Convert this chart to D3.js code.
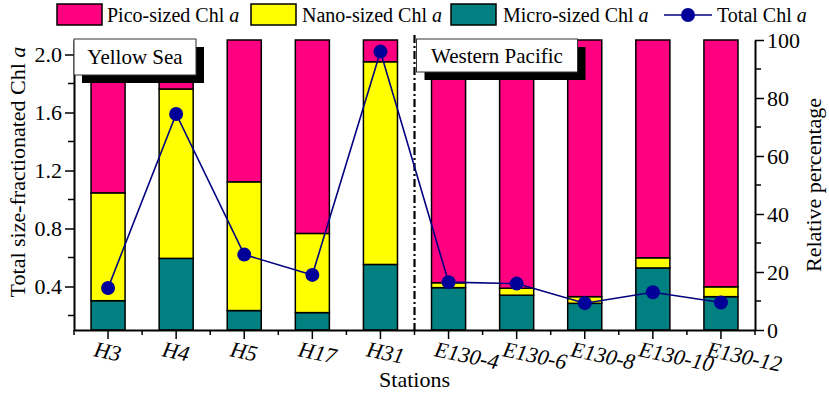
<!DOCTYPE html>
<html>
<head>
<meta charset="utf-8">
<script src="https://cdn.jsdelivr.net/npm/d3@7"></script>
<style>
  body { margin: 0; background: #fff; }
  svg { display: block; font-family: "Liberation Serif", "Times New Roman", serif; }
  svg text { font-family: "Liberation Serif", "Times New Roman", serif; }
</style>
</head>
<body>
<svg id="chart" width="829" height="393"></svg>
<script>
const stations = ["H3", "H4", "H5", "H17", "H31", "E130-4", "E130-6", "E130-8", "E130-10", "E130-12"];
// relative percentages (%)
const microPct = [10.1, 24.7, 6.7, 6.0, 22.6, 14.6, 12.0, 9.2, 21.4, 11.5];
const nanoPct  = [37.2, 58.4, 44.4, 27.3, 69.9, 1.7, 2.4, 2.3, 3.5, 3.4];
const picoPct  = microPct.map((m, i) => 100 - m - nanoPct[i]);
// total Chl a (left axis)
const totalChl = [0.39, 1.59, 0.62, 0.48, 2.02, 0.43, 0.42, 0.285, 0.36, 0.29];
const leftTicks = [0.4, 0.8, 1.2, 1.6, 2.0];
const leftMinor = [0.2, 0.6, 1.0, 1.4, 1.8];
const rightTicks = [0, 20, 40, 60, 80, 100];
const rightMinor = [10, 30, 50, 70, 90];
const regions = ["Yellow Sea", "Western Pacific"];

const colors = { pico: "#FF0080", nano: "#FFFF00", micro: "#008080", line: "#000080", dot: "#000099" };

const svg = d3.select("#chart");
const L = 74, R = 755, T = 40, B = 330;

const x = d3.scaleBand().domain(stations).range([L, R]).paddingInner(0.5).paddingOuter(0.25);
const yL = d3.scaleLinear().domain([0.1, 2.1]).range([B, T]);
const yR = d3.scaleLinear().domain([0, 100]).range([B, T]);

// stacked bars
const rows = stations.map((s, i) => ({ station: s, micro: microPct[i], nano: nanoPct[i], pico: picoPct[i] }));
const stack = d3.stack().keys(["micro", "nano", "pico"])(rows);
svg.append("g").selectAll("g").data(stack).join("g")
  .attr("fill", d => colors[d.key])
  .selectAll("rect").data(d => d).join("rect")
  .attr("x", d => x(d.data.station))
  .attr("width", x.bandwidth())
  .attr("y", d => yR(d[1]))
  .attr("height", d => yR(d[0]) - yR(d[1]))
  .attr("stroke", "#000")
  .attr("stroke-width", 1.5);

// divider (dash-dot)
const divX = x("H31") + x.bandwidth() + (x.step() - x.bandwidth()) / 2;
svg.append("line")
  .attr("x1", divX).attr("x2", divX).attr("y1", 35).attr("y2", B)
  .attr("stroke", "#000").attr("stroke-width", 2.2)
  .attr("stroke-dasharray", "8,3,2,3");

// axes
const gL = svg.append("g").attr("transform", `translate(${L},0)`)
  .call(d3.axisLeft(yL).tickValues(leftTicks).tickFormat(d3.format(".1f")).tickSize(9).tickSizeOuter(0).tickPadding(3));
gL.append("g").selectAll("line").data(leftMinor).join("line")
  .attr("x1", -6).attr("x2", 0).attr("y1", d => yL(d)).attr("y2", d => yL(d)).attr("stroke", "#000");

const gR = svg.append("g").attr("transform", `translate(${R},0)`)
  .call(d3.axisRight(yR).tickValues(rightTicks).tickSize(9).tickSizeOuter(0).tickPadding(3));
gR.append("g").selectAll("line").data(rightMinor).join("line")
  .attr("x1", 0).attr("x2", 6).attr("y1", d => yR(d)).attr("y2", d => yR(d)).attr("stroke", "#000");

const gB = svg.append("g").attr("transform", `translate(0,${B})`)
  .call(d3.axisBottom(x).tickSize(9).tickSizeOuter(0).tickFormat(""));
const boundaries = stations.map(s => x(s) - (x.step() - x.bandwidth()) / 2).concat([R]);
gB.append("g").selectAll("line").data(boundaries).join("line")
  .attr("x1", d => d).attr("x2", d => d).attr("y1", 0).attr("y2", 5).attr("stroke", "#000");

[gL, gR, gB].forEach(g => {
  g.attr("font-family", "Liberation Serif");
  g.selectAll(".domain").attr("stroke", "#000").attr("stroke-width", 2);
  g.selectAll(".tick line").attr("stroke-width", 1.5);
  g.selectAll("g > line").attr("stroke-width", 1.5);
  g.selectAll("text").attr("font-family", "Liberation Serif").attr("font-size", 22).attr("fill", "#000");
});

// station labels (rotated italic)
svg.append("g").selectAll("text").data(stations).join("text")
  .attr("transform", d => `translate(${x(d) + x.bandwidth() / 2 - 15},356) rotate(12)`)
  .attr("font-style", "italic").attr("font-size", 22)
  .text(d => d);

// total Chl line
const line = d3.line().x(d => x(d.s) + x.bandwidth() / 2).y(d => yL(d.v));
const pts = stations.map((s, i) => ({ s, v: totalChl[i] }));
svg.append("path").datum(pts).attr("d", line)
  .attr("fill", "none").attr("stroke", colors.line).attr("stroke-width", 1.6);
svg.append("g").selectAll("circle").data(pts).join("circle")
  .attr("cx", d => x(d.s) + x.bandwidth() / 2).attr("cy", d => yL(d.v)).attr("r", 7)
  .attr("fill", colors.dot);

// region boxes
const boxes = [
  { label: regions[0], x0: 74, w: 122, h: 36 },
  { label: regions[1], x0: divX + 2, w: 161, h: 33 }
];
boxes.forEach(b => {
  svg.append("rect").attr("x", b.x0 + 8).attr("y", 39 + 8).attr("width", b.w).attr("height", b.h).attr("fill", "#000");
  svg.append("rect").attr("x", b.x0).attr("y", 39).attr("width", b.w).attr("height", b.h)
    .attr("fill", "#fff").attr("stroke", "#333").attr("stroke-width", 1);
  svg.append("text").attr("x", b.x0 + b.w / 2).attr("y", 39 + b.h / 2 + 7)
    .attr("text-anchor", "middle").attr("font-size", 21).text(b.label);
});

// axis titles
const lt = svg.append("text").attr("transform", "translate(25,172) rotate(-90)")
  .attr("text-anchor", "middle").attr("font-size", 22);
lt.append("tspan").text("Total size-fractionated Chl ");
lt.append("tspan").attr("font-style", "italic").text("a");

svg.append("text").attr("transform", "translate(821,185) rotate(-90)")
  .attr("text-anchor", "middle").attr("font-size", 22).text("Relative percentage");

svg.append("text").attr("x", (L + R) / 2).attr("y", 387)
  .attr("text-anchor", "middle").attr("font-size", 22).text("Stations");

// legend
const legendItems = [
  { key: "pico", name: "Pico-sized Chl ", sx: 57, tx: 107 },
  { key: "nano", name: "Nano-sized Chl ", sx: 251, tx: 302 },
  { key: "micro", name: "Micro-sized Chl ", sx: 451, tx: 503 }
];
legendItems.forEach(it => {
  svg.append("rect").attr("x", it.sx).attr("y", 4).attr("width", 45).attr("height", 21)
    .attr("fill", colors[it.key]).attr("stroke", "#000").attr("stroke-width", 1.5);
  const t = svg.append("text").attr("x", it.tx).attr("y", 22).attr("font-size", 20);
  t.append("tspan").text(it.name);
  t.append("tspan").attr("font-style", "italic").text("a");
});
svg.append("line").attr("x1", 664).attr("x2", 712).attr("y1", 15).attr("y2", 15)
  .attr("stroke", colors.line).attr("stroke-width", 1.6);
svg.append("circle").attr("cx", 688).attr("cy", 15).attr("r", 7).attr("fill", colors.dot);
const tl = svg.append("text").attr("x", 717).attr("y", 22).attr("font-size", 20);
tl.append("tspan").text("Total Chl ");
tl.append("tspan").attr("font-style", "italic").text("a");
</script>
</body>
</html>
